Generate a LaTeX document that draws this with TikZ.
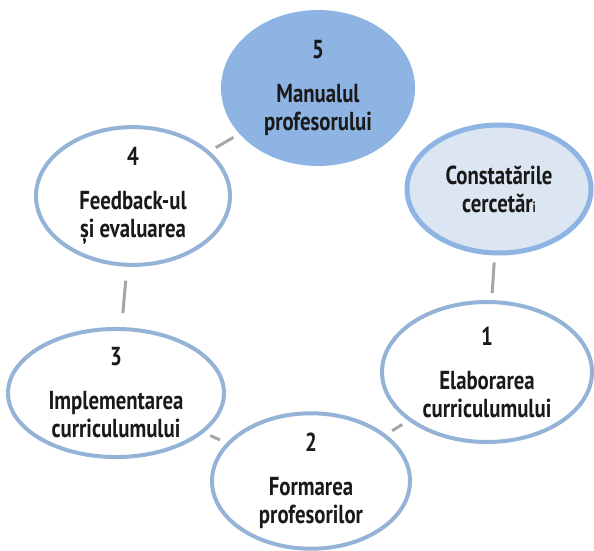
\documentclass[tikz,border=0pt]{standalone}
\usepackage{fontspec}
\setmainfont{PT Sans}[FakeStretch=0.8]
\usetikzlibrary{shapes.geometric,positioning}
\definecolor{ringblue}{HTML}{95B3D7}
\definecolor{topblue}{HTML}{8EB4E3}
\definecolor{paleblue}{HTML}{DCE6F2}
\definecolor{linkgray}{HTML}{A6A6A6}
\tikzset{
  stage/.style={ellipse, draw=ringblue, line width=4pt, fill=white, align=center,
    inner sep=0pt, text=black!90, font=\bfseries\fontsize{26}{28}\selectfont},
  link/.style={draw=linkgray, line width=3pt, shorten >=7pt, shorten <=7pt},
}
\begin{document}
\begin{tikzpicture}[on grid]
            \useasboundingbox (0pt,0pt) rectangle (594pt,-551pt);
            \node (M) [stage, fill=topblue, draw=topblue, minimum width=190pt, minimum height=152pt] at (318pt,-88pt) {5\\[16pt]Manualul\\profesorului};
            \node (C) [stage, fill=paleblue, draw=topblue, line width=5pt, minimum width=184pt, minimum height=128pt, below right=101pt and 181pt of M] {Constatările\\cercetăr{\fontsize{15}{15}\selectfont i}};
            \node (F) [stage, minimum width=194pt, minimum height=134pt, below left=108pt and 185pt of M] {4\\[16pt]Feedback-ul\\și evaluarea};
            \node (I) [stage, minimum width=216pt, minimum height=126pt, below left=197pt and 17pt of F] {3\\[16pt]Implementarea\\curriculumului};
            \node (P) [stage, minimum width=198pt, minimum height=128pt, below right=88pt and 195pt of I] {2\\[16pt]Formarea\\profesorilor};
            \node (E) [stage, minimum width=210pt, minimum height=140pt, above right=109pt and 176pt of P] {1\\[16pt]Elaborarea\\curriculumului};
            \path[link] (M) edge (F)
                (F) edge[shorten >=14pt, shorten <=14pt] (I)
                (I) edge (P)
                (P) edge (E)
                (E) edge (C);
        \end{tikzpicture}
\end{document}
